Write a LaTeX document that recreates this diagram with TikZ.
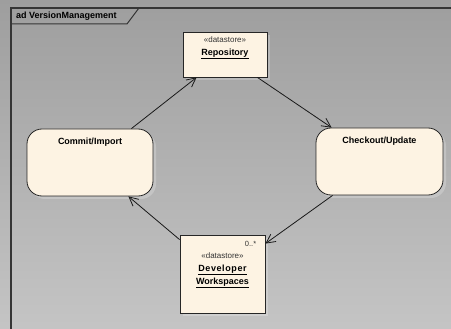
\documentclass[tikz,border=0pt]{standalone}
\usepackage{fontspec}
\setmainfont{Liberation Sans}
\usetikzlibrary{arrows.meta,shadows}
\definecolor{nodefill}{HTML}{FDF3E3}
\definecolor{framecol}{HTML}{353535}
\tikzset{
  shadowed/.style={general shadow={fill=white,fill opacity=0.22,shadow xshift=3pt,shadow yshift=-3pt}},
  storebox/.style={draw=black!85,line width=0.8pt,fill=nodefill,shadowed,inner sep=0pt},
  actbox/.style={storebox,rounded corners=15pt},
  flow/.style={draw=black!90,line width=0.8pt,-{Straight Barb[length=9pt,width=9pt,line width=0.8pt]}},
  title/.style={font=\fontsize{9}{11}\selectfont\bfseries,inner sep=0pt},
  stereo/.style={font=\fontsize{8}{10}\selectfont,inner sep=0pt,text=black!80},
}
\begin{document}
\begin{tikzpicture}[x=1pt,y=-1pt]
  % backdrop
  \shade[top color=black!38,bottom color=black!23] (0,0) rectangle (451,329);
  \useasboundingbox (0,0) rectangle (451,329);
  % diagram frame with name tab
  \draw[framecol,line width=1.4pt] (11,329) -- (11,8) -- (451,8);
  \draw[framecol,line width=1pt] (11,24) -- (127,24) -- (139,8);
  \node[title,anchor=west] (frametitle) at (16,16.5) {ad VersionManagement};

  % data stores and activities
  \node[storebox,minimum width=84pt,minimum height=45pt] (repo) at (225,54.5) {};
  \node[stereo,anchor=north] (repost) at ([yshift=-5pt]repo.north) {«datastore»};
  \node[title,anchor=north] (reponame) at ([yshift=-17pt]repo.north) {\underline{Repository}};

  \node[actbox,minimum width=126pt,minimum height=67pt] (commit) at (90,162.5) {};
  \node[title,anchor=north] (committ) at ([yshift=-9pt]commit.north) {Commit/Import};

  \node[actbox,minimum width=127pt,minimum height=67pt] (checkout) at (379.5,161.5) {};
  \node[title,anchor=north] (checkoutt) at ([yshift=-9pt]checkout.north) {Checkout/Update};

  \node[storebox,minimum width=85pt,minimum height=78pt] (dev) at (222.5,274) {};
  \node[stereo,anchor=north east,font=\fontsize{7.5}{9}\selectfont] (devmult) at ([xshift=-9pt,yshift=-6pt]dev.north east) {0..*};
  \node[stereo,anchor=north] (devst) at ([yshift=-18pt]dev.north) {«datastore»};
  \node[title,anchor=north,align=center,font=\fontsize{9}{13}\selectfont\bfseries] (devname) at ([yshift=-30pt]dev.north)
    {\underline{D\kern0.6pt e\kern0.6pt v\kern0.6pt e\kern0.6pt l\kern0.6pt o\kern0.6pt p\kern0.6pt e\kern0.6pt r}\\\underline{Workspaces}};

  % object flows
  \draw[flow] ([xshift=-22pt]commit.north east) -- ([xshift=14pt]repo.south west);
  \draw[flow] ([xshift=-10pt]repo.south east) -- ([xshift=16pt]checkout.north west);
  \draw[flow] ([xshift=17pt]checkout.south west) -- ([yshift=-9pt]dev.north east);
  \draw[flow] ([yshift=-5pt]dev.north west) -- ([xshift=-25pt]commit.south east);
\end{tikzpicture}
\end{document}
